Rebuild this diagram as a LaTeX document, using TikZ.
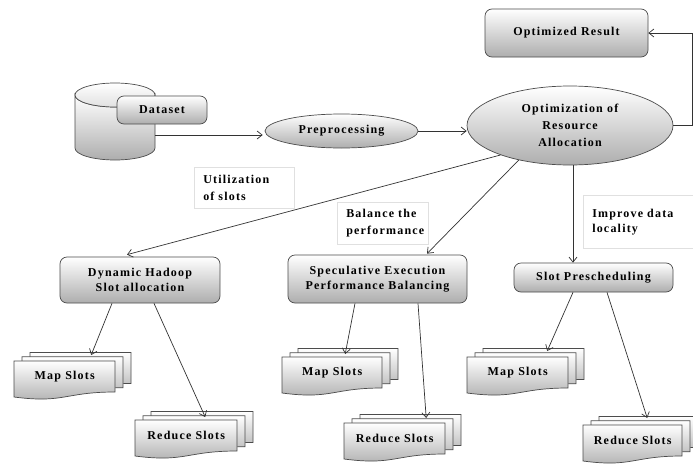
\documentclass[tikz,border=0pt]{standalone}
\usepackage{fontspec}
\setmainfont{Liberation Serif}[LetterSpace=10]
\usetikzlibrary{arrows.meta,shapes.geometric,calc}

\newcommand\mdlayer[3]{%
  \path[docsty] (#1,#2) -- ({#1+#3},#2) -- ({#1+#3},{#2+31})
    .. controls ({#1+#3/2},{#2+31}) and ({#1+#3/2},{#2+42.6}) .. (#1,{#2+36}) -- cycle;}
\newcommand\mdoc[5]{%
  \mdlayer{#2+16}{#3-8.5}{#4}
  \mdlayer{#2+8}{#3-4.25}{#4}
  \mdlayer{#2}{#3}{#4}
  \node[anchor=north west, minimum width=#4, minimum height=30, inner sep=0pt] (#1) at (#2,#3) {#5};}

\begin{document}
\begin{tikzpicture}[x=1pt,y=-1pt,
  font=\fontsize{12}{15}\selectfont\bfseries,
  line/.style={draw=black!80, line width=0.7pt},
  arr/.style={line, -{Straight Barb[length=5pt,width=8pt]}},
  rbox/.style={draw=black!70, line width=0.7pt, rounded corners=7pt, top color=white, bottom color=black!32, align=center, inner sep=0pt},
  oval/.style={ellipse, draw=black!70, line width=0.7pt, top color=white, bottom color=black!32, align=center, inner sep=0pt},
  lbl/.style={draw=black!12, line width=0.5pt, align=left, inner xsep=9pt, inner ysep=0pt, anchor=north west},
  docsty/.style={draw=black!70, line width=0.7pt, top color=white, bottom color=black!32}]
\useasboundingbox (0,0) rectangle (693,466);
\fill[white] (0,0) rectangle (693,466);

% cylinder (dataset store)
\node[minimum width=80, minimum height=77, inner sep=0pt] (cyl) at (115,121.5) {};
\path[docsty] (75,95) -- (75,148) arc[start angle=180, end angle=0, x radius=40, y radius=12]
  -- (155,95) arc[start angle=0, end angle=180, x radius=40, y radius=12] -- cycle;
\path[draw=black!70, line width=0.7pt, top color=white, bottom color=black!12] (115,95) ellipse [x radius=40, y radius=12];

\node[rbox, minimum width=90, minimum height=28] (ds) at (162,110) {Dataset};

\node[oval, minimum width=153, minimum height=34] (prep) at (341.5,131) {Preprocessing};
\node[oval, minimum width=206, minimum height=79, font=\fontsize{12}{17}\selectfont\bfseries] (opt) at (570,125.5) {Optimization of\\Resource\\Allocation};
\node[rbox, minimum width=163, minimum height=48] (res) at (566.5,33) {Optimized Result};

\node[rbox, minimum width=160, minimum height=46] (dyn) at (140,280) {Dynamic Hadoop\\Slot allocation};
\node[rbox, minimum width=179, minimum height=48] (spec) at (377.5,279) {Speculative Execution\\Performance Balancing};
\node[rbox, minimum width=159, minimum height=29] (slot) at (593.5,277.5) {Slot Prescheduling};

% labels
\node[lbl, minimum width=100, minimum height=41, text width=82, font=\fontsize{12}{17}\selectfont\bfseries] (l1) at (194,167) {Utilization\\of slots};
\node[lbl, minimum width=91, minimum height=42, text width=73, font=\fontsize{12}{17}\selectfont\bfseries] (l2) at (337,202) {Balance the\\performance};
\node[lbl, minimum width=115, minimum height=53, text width=97, font=\fontsize{12}{15}\selectfont\bfseries] (l3) at (583,195) {Improve data\\locality};

% slot stacks
\mdoc{lmap}{14}{361}{101}{Map Slots}
\mdoc{lred}{135}{420}{102}{Reduce Slots}
\mdoc{mmap}{282}{357}{100}{Map Slots}
\mdoc{mred}{344}{423}{101}{Reduce Slots}
\mdoc{rmap}{467}{357}{101}{Map Slots}
\mdoc{rred}{583}{425}{99}{Reduce Slots}

% connectors
\draw[arr] ($(cyl.east)+(0,13.5)$) -- ($(prep.west)+(-2,4)$);
\draw[arr] (prep.east) -- (prep.east -| opt.west);
\draw[arr] (opt.east) -- ++(19,0) |- (res.east);
\draw[arr] (opt.203) -- ($(dyn.north)+(-13,-2)$);
\draw[arr] (opt.214) -- ($(spec.north)+(49.5,-1)$);
\draw[arr] ($(opt.south)+(3,0)$) -- ($(slot.north)+(-20.5,0)$);

\draw[arr] ($(dyn.south)+(-28,0)$) -- ($(lmap.north)+(26.5,-6)$);
\draw[arr] ($(dyn.south)+(14,0)$) -- ($(lred.north)+(19,-3)$);
\draw[arr] ($(spec.south)+(-22.5,0)$) -- ($(mmap.north)+(13,-3)$);
\draw[arr] ($(spec.south)+(40.5,0)$) -- ($(mred.north)+(31.5,-5)$);
\draw[arr] ($(slot.south)+(-20.5,0)$) -- ($(rmap.north)+(29.5,-6)$);
\draw[arr] ($(slot.south)+(13.5,0)$) -- ($(rred.north)+(14.5,-7)$);
\end{tikzpicture}
\end{document}
